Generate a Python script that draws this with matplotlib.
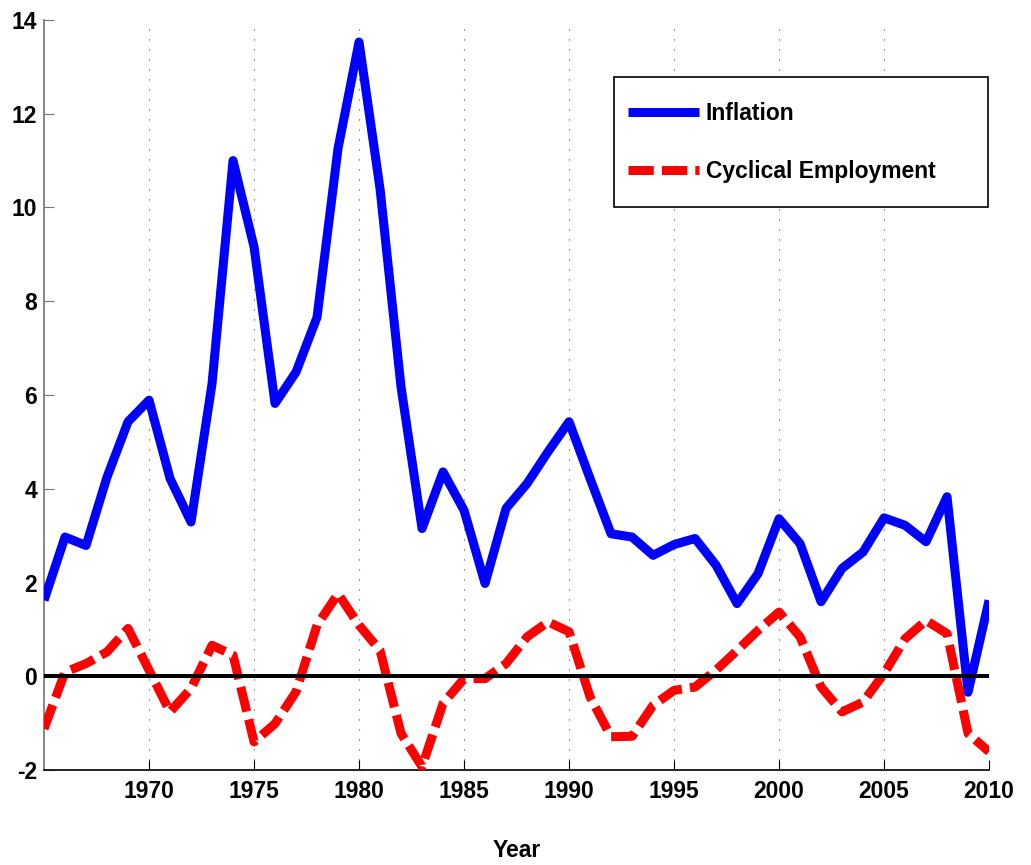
import numpy as np
import matplotlib
matplotlib.use('Agg')
import matplotlib.pyplot as plt
from matplotlib.patches import Rectangle

# 데이터
years = np.arange(1965, 2011)
inflation = [1.62, 2.97, 2.79, 4.25, 5.43, 5.89, 4.22, 3.29, 6.24, 11.0,
             9.16, 5.82, 6.49, 7.66, 11.26, 13.53, 10.40, 6.17, 3.15, 4.36,
             3.54, 1.98, 3.58, 4.11, 4.79, 5.43, 4.22, 3.04, 2.97, 2.58,
             2.81, 2.94, 2.37, 1.55, 2.19, 3.36, 2.83, 1.59, 2.30, 2.65,
             3.38, 3.22, 2.87, 3.83, -0.34, 1.62]
cyc_emp = [-1.12, 0.09, 0.27, 0.52, 1.02, 0.13, -0.76, -0.26, 0.66, 0.45,
           -1.40, -1.01, -0.33, 1.09, 1.76, 1.09, 0.55, -1.22, -1.93, -0.58,
           -0.05, -0.05, 0.27, 0.84, 1.16, 0.95, -0.44, -1.29, -1.28, -0.62,
           -0.30, -0.23, 0.13, 0.55, 0.98, 1.37, 0.84, -0.23, -0.76, -0.55,
           0.06, 0.80, 1.19, 0.91, -1.22, -1.61]
xticks = [1970, 1975, 1980, 1985, 1990, 1995, 2000, 2005, 2010]
yticks = [-2, 0, 2, 4, 6, 8, 10, 12, 14]

plt.rcParams['font.family'] = ['Liberation Sans', 'DejaVu Sans']
plt.rcParams['font.weight'] = 'bold'
plt.rcParams['axes.unicode_minus'] = False

fs = 16.5
fig = plt.figure(figsize=(10.31, 8.65), dpi=100)
ax = fig.add_axes([0.0427, 0.1098, 0.9166, 0.8671])

ax.plot(years, inflation, c='blue', lw=6.5, label='Inflation', zorder=3,
        solid_capstyle='butt', solid_joinstyle='round')
ax.plot(years, cyc_emp, c='red', lw=6.5, ls=(0, (2.8, 0.9)),
        label='Cyclical Employment', zorder=3, dash_joinstyle='round')
ax.axhline(0, c='black', lw=2.9, zorder=4)

ax.set_xlim(1965, 2010)
ax.set_ylim(-2, 14)
ax.set_xticks(xticks)
ax.set_yticks(yticks)
ax.grid(axis='x', ls=(0, (1, 8)), c='0.3', lw=0.8)  # 세로 점선만

ax.spines['top'].set_visible(False)
ax.spines['right'].set_visible(False)
ax.spines['left'].set_color('0.45')
ax.spines['left'].set_linewidth(1.2)
ax.spines['bottom'].set_linewidth(1.2)
ax.tick_params(axis='both', direction='in', length=7, labelsize=fs)
ax.tick_params(axis='y', colors='0.45', labelcolor='black', pad=5)
ax.tick_params(axis='x', pad=7)
for t in ax.get_xticklabels() + ax.get_yticklabels():
    t.set_fontweight('bold')

ax.set_xlabel('Year', fontsize=fs, fontweight='bold', labelpad=26)

# 범례 박스 (MATLAB 스타일)
ax.add_patch(Rectangle((0.603, 0.7507), 0.396, 0.1733, transform=ax.transAxes,
                       fill=True, facecolor='white', edgecolor='black',
                       lw=1.2, zorder=5))
leg = ax.legend(loc='center left', bbox_to_anchor=(0.618, 0.8367),
                fontsize=fs, frameon=False,
                handlelength=3.1, labelspacing=1.55, borderpad=0,
                handletextpad=0.3, borderaxespad=0)
leg.set_zorder(6)
for t in leg.get_texts():
    t.set_fontweight('bold')

plt.savefig('out.png', dpi=100)
